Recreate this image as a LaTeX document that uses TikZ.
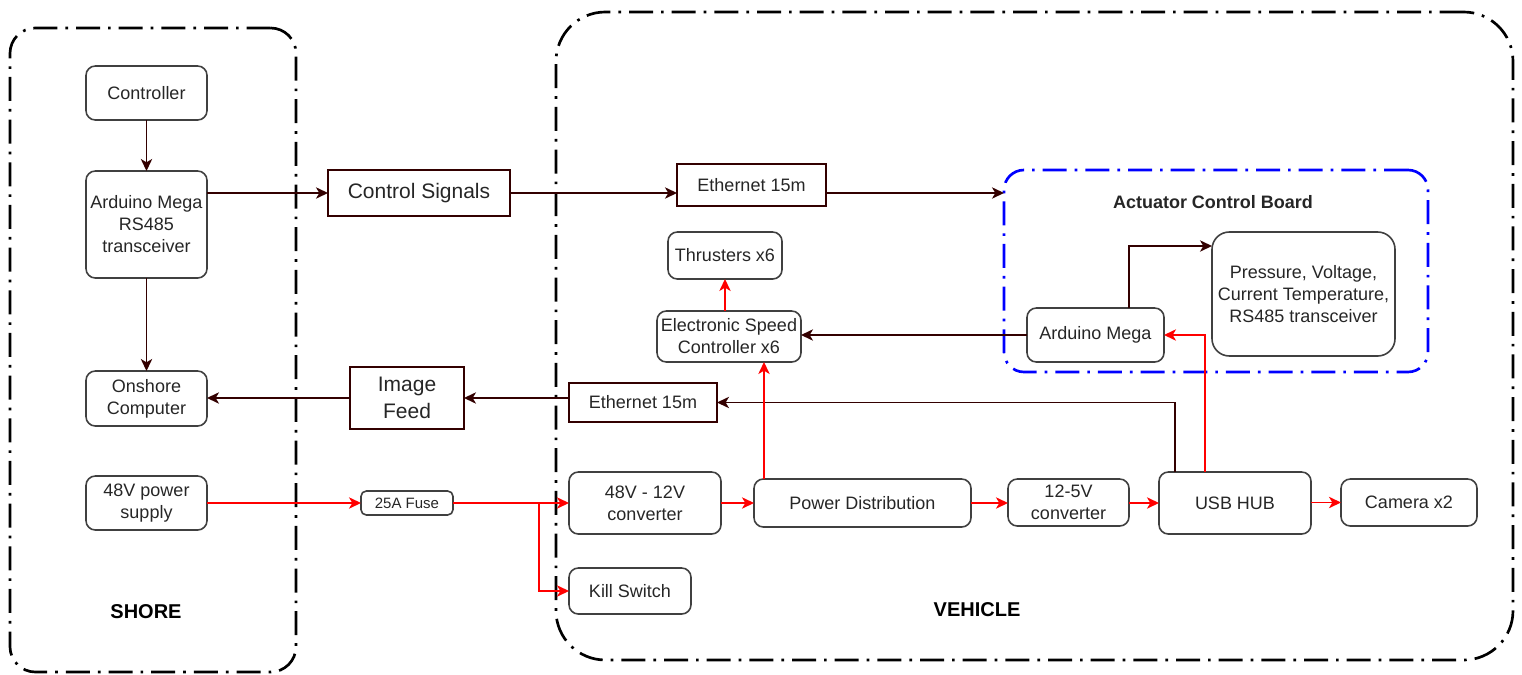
\documentclass[tikz,border=0pt]{standalone}
\usepackage{fontspec}
\setmainfont{Liberation Sans}
\usetikzlibrary{arrows.meta,calc}
\definecolor{brn}{HTML}{330000}
\definecolor{txt}{HTML}{262626}
\definecolor{bx}{HTML}{404040}
\definecolor{acbblue}{HTML}{0000FF}
\definecolor{pwr}{HTML}{FF0000}
\begin{document}
\begin{tikzpicture}[x=0.75pt,y=-0.75pt,
  every node/.style={inner sep=0pt, outer sep=0pt, text=txt, align=center},
  span/.style n args={4}{minimum width={(#3-#1)*0.75pt}, minimum height={(#4-#2)*0.75pt}, at={({(#1+#3)/2},{(#2+#4)/2})}},
  ftxt/.style={font=\fontsize{13.5}{16.5}\selectfont},
  rbox/.style={draw=bx, line width=1.2pt, rounded corners=7pt, ftxt},
  sbox/.style={draw=brn, line width=1.1pt, ftxt},
  cont/.style={draw=black, line width=2pt, dash pattern=on 18pt off 6pt on 2pt off 6pt},
  conn/.style={draw=brn, line width=1.1pt, -{Stealth[length=9pt,width=8.5pt,inset=2.5pt]}},
  pw/.style={draw=pwr, line width=1.2pt, -{Stealth[length=9pt,width=8.5pt,inset=2.5pt]}},
  lbl/.style={font=\bfseries\fontsize{15}{18}\selectfont, text=black},
]
\useasboundingbox (0,0) rectangle (1522,675);
% containers
\node[cont, rounded corners=19pt, span={10}{28}{296}{672}] (shore) {};
\node[cont, rounded corners=37pt, span={556}{12}{1513}{660}] (veh) {};
\node[cont, draw=acbblue, rounded corners=15pt, span={1004}{170}{1428}{372}] (acb) {};
\node[lbl] (shl) at (146,612) {SHORE};
\node[lbl] (vhl) at (977,610) {VEHICLE};
\node[font=\bfseries\fontsize{13.5}{16}\selectfont] (acbt) at (1213,202) {Actuator Control Board};
% shore
\node[rbox, span={86}{66}{207}{120}] (ctrl) {Controller};
\node[rbox, span={86}{171}{207}{278}] (ard) {Arduino Mega\\RS485\\transceiver};
\node[rbox, span={86}{371}{207}{426}] (onc) {Onshore\\Computer};
\node[rbox, span={86}{476}{207}{530}] (ps) {48V power\\supply};
% middle
\node[sbox, font=\fontsize{15.75}{19}\selectfont, span={328}{170}{510}{216}] (cs) {Control Signals};
\node[sbox, font=\fontsize{15.75}{20}\selectfont, span={350}{367}{464}{429}] (img) {Image\\Feed};
\node[rbox, rounded corners=4pt, font=\fontsize{11.25}{13}\selectfont, span={361}{491}{453}{515}] (fuse) {25A Fuse};
% vehicle
\node[sbox, span={677}{164}{826}{206}] (eth1) {Ethernet 15m};
\node[sbox, span={569}{383}{717}{422}] (eth2) {Ethernet 15m};
\node[rbox, span={668}{232}{782}{279}] (thr) {Thrusters x6};
\node[rbox, span={657}{311}{801}{362}] (esc) {Electronic Speed\\Controller x6};
\node[rbox, rounded corners=13pt, span={1212}{232}{1395}{356}] (prs) {Pressure, Voltage,\\Current Temperature,\\RS485 transceiver};
\node[rbox, span={1027}{308}{1164}{362}] (ardb) {Arduino Mega};
\node[rbox, span={569}{472}{721}{534}] (conv) {48V - 12V\\converter};
\node[rbox, span={754}{479}{971}{527}] (pd) {Power Distribution};
\node[rbox, span={1008}{479}{1129}{526}] (c125) {12-5V\\converter};
\node[rbox, span={1159}{472}{1311}{534}] (usb) {USB HUB};
\node[rbox, span={1341}{479}{1477}{526}] (cam) {Camera x2};
\node[rbox, span={569}{568}{691}{614}] (kill) {Kill Switch};
% helper coordinates
\coordinate (p1) at (1129,246);
\coordinate (p2) at (1175,402);
\coordinate (p3) at (1205,335);
\coordinate (p4) at (764,400);
\coordinate (br) at (539,503);
% data connectors
\draw[conn] (ctrl) -- (ard);
\draw[conn] (ard) -- (onc);
\draw[conn] (ard.east |- cs.west) -- (cs.west);
\draw[conn] (cs.east) -- (eth1.west |- cs.east);
\draw[conn] (eth1.east |- cs.east) -- (acb.west |- cs.east);
\draw[conn] (ardb.north -| p1) |- (prs.west |- p1);
\draw[conn] (ardb.west) -- (esc.east |- ardb.west);
\draw[conn] (usb.north -| p2) |- (eth2.east);
\draw[conn] (eth2.west |- img.east) -- (img.east);
\draw[conn] (img.west) -- (onc.east |- img.west);
% power connectors
\draw[pw] (ps.east |- fuse.west) -- (fuse.west);
\draw[pw] (fuse.east) -- (conv.west |- fuse.east);
\draw[pw] (br) |- (kill.west);
\draw[pw] (conv.east |- pd.west) -- (pd.west);
\draw[pw] (pd.east) -- (c125.west |- pd.east);
\draw[pw] (c125.east |- usb.west) -- (usb.west);
\draw[pw] (usb.east |- cam.west) -- (cam.west);
\draw[pw] (pd.north -| p4) -- (esc.south -| p4);
\draw[pw] (esc.north -| thr.south) -- (thr.south);
\draw[pw] (usb.north -| p3) |- (ardb.east);
\end{tikzpicture}
\end{document}
